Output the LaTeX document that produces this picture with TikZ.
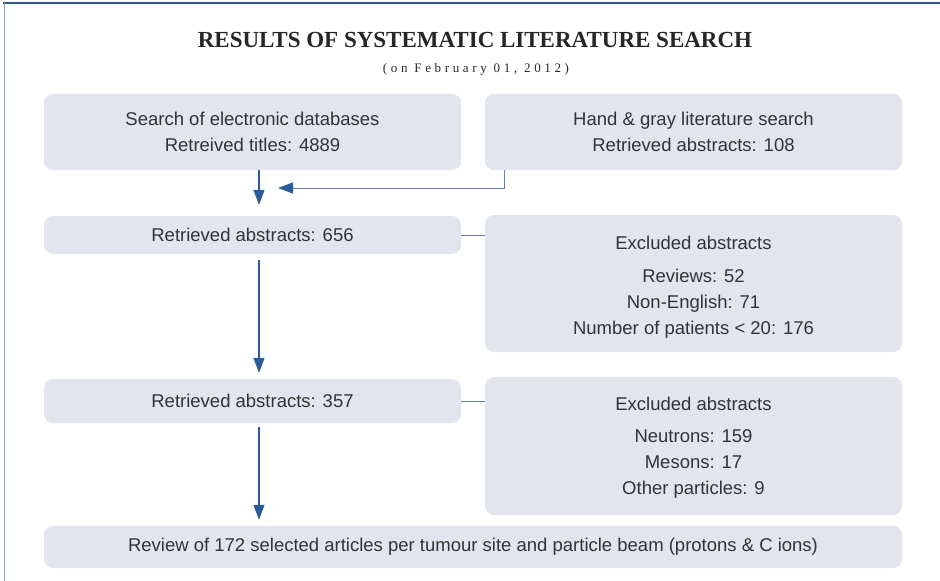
\documentclass[tikz,border=0pt]{standalone}
\usepackage{fontspec}
\setmainfont{Liberation Sans}
\newfontfamily\titlefont{Liberation Serif}
\newfontfamily\datefont[LetterSpace=28]{Liberation Serif}
\usetikzlibrary{arrows.meta}
\definecolor{boxfill}{RGB}{226,229,238}
\definecolor{arrowblue}{RGB}{43,92,153}
\definecolor{lineblue}{RGB}{96,132,180}
\definecolor{textgray}{RGB}{51,51,51}
\definecolor{frametop}{RGB}{45,90,145}
\definecolor{frameleft}{RGB}{140,166,198}

\begin{document}
\begin{tikzpicture}[x=1pt,y=-1pt,
    stage/.style={fill=boxfill, rounded corners=9pt, text=textgray, minimum width=417pt,
      align=center, inner sep=0pt, font=\fontsize{18.5}{26}\selectfont},
    heading/.style={text=black!85, font=\titlefont\bfseries\fontsize{23}{27}\selectfont},
    subheading/.style={text=black!85, font=\datefont\fontsize{13}{16}\selectfont},
    flow/.style={draw=arrowblue, line width=1.2pt, -{Triangle[length=15pt,width=11pt]}},
    link/.style={draw=lineblue, line width=1pt}]
    \useasboundingbox (0,0) rectangle (940,581);
    \draw[frametop, line width=1.3pt] (3,3) -- (940,3);
    \draw[frameleft, line width=1.5pt] (4.5,3) -- (4.5,581);

    \node [heading] (title) at (475,40) {RESULTS OF SYSTEMATIC LITERATURE SEARCH};
    \node [subheading] (date) at (476,69) {(on February 01, 2012)};

    \node [stage, minimum height=76pt] (db) at (252.5,132)
      {Search of electronic databases\\Retreived titles: 4889};
    \node [stage, minimum height=76pt] (hand) at (693.5,132)
      {Hand \& gray literature search\\Retrieved abstracts: 108};
    \node [stage, minimum height=38pt] (abs1) at (252.5,235) {Retrieved abstracts: 656};
    \node [stage, minimum height=137pt] (excl1) at (693.5,283.5)
      {\rule{0pt}{20.5pt}Excluded abstracts\\[7pt]Reviews: 52\\Non-English: 71\\Number of patients < 20: 176};
    \node [stage, minimum height=44pt] (abs2) at (252.5,401) {Retrieved abstracts: 357};
    \node [stage, minimum height=138pt] (excl2) at (693.5,446)
      {\rule{0pt}{17.5pt}Excluded abstracts\\[6pt]Neutrons: 159\\Mesons: 17\\Other particles: 9};
    \node [stage, minimum width=858pt, minimum height=42pt] (review) at (473,547)
      {Review of 172 selected articles per tumour site and particle beam (protons \& C ions)};

    \coordinate (col) at (259,0);
    \coordinate (bx) at (504,0);
    \coordinate (merge) at (278,188);

    \draw [flow, shorten >=11pt] (db.south -| col) -- (abs1.north -| col);
    \draw [link, -{Triangle[length=15pt,width=11pt,color=arrowblue]}] (hand.south -| bx) |- (merge);
    \draw [flow, shorten <=6pt, shorten >=6pt] (abs1.south -| col) -- (abs2.north -| col);
    \draw [flow, shorten <=4pt, shorten >=6pt] (abs2.south -| col) -- (review.north -| col);
    \draw [link] (abs1.east) -- (excl1.west |- abs1.east);
    \draw [link] (abs2.east) -- (excl2.west |- abs2.east);
\end{tikzpicture}
\end{document}
